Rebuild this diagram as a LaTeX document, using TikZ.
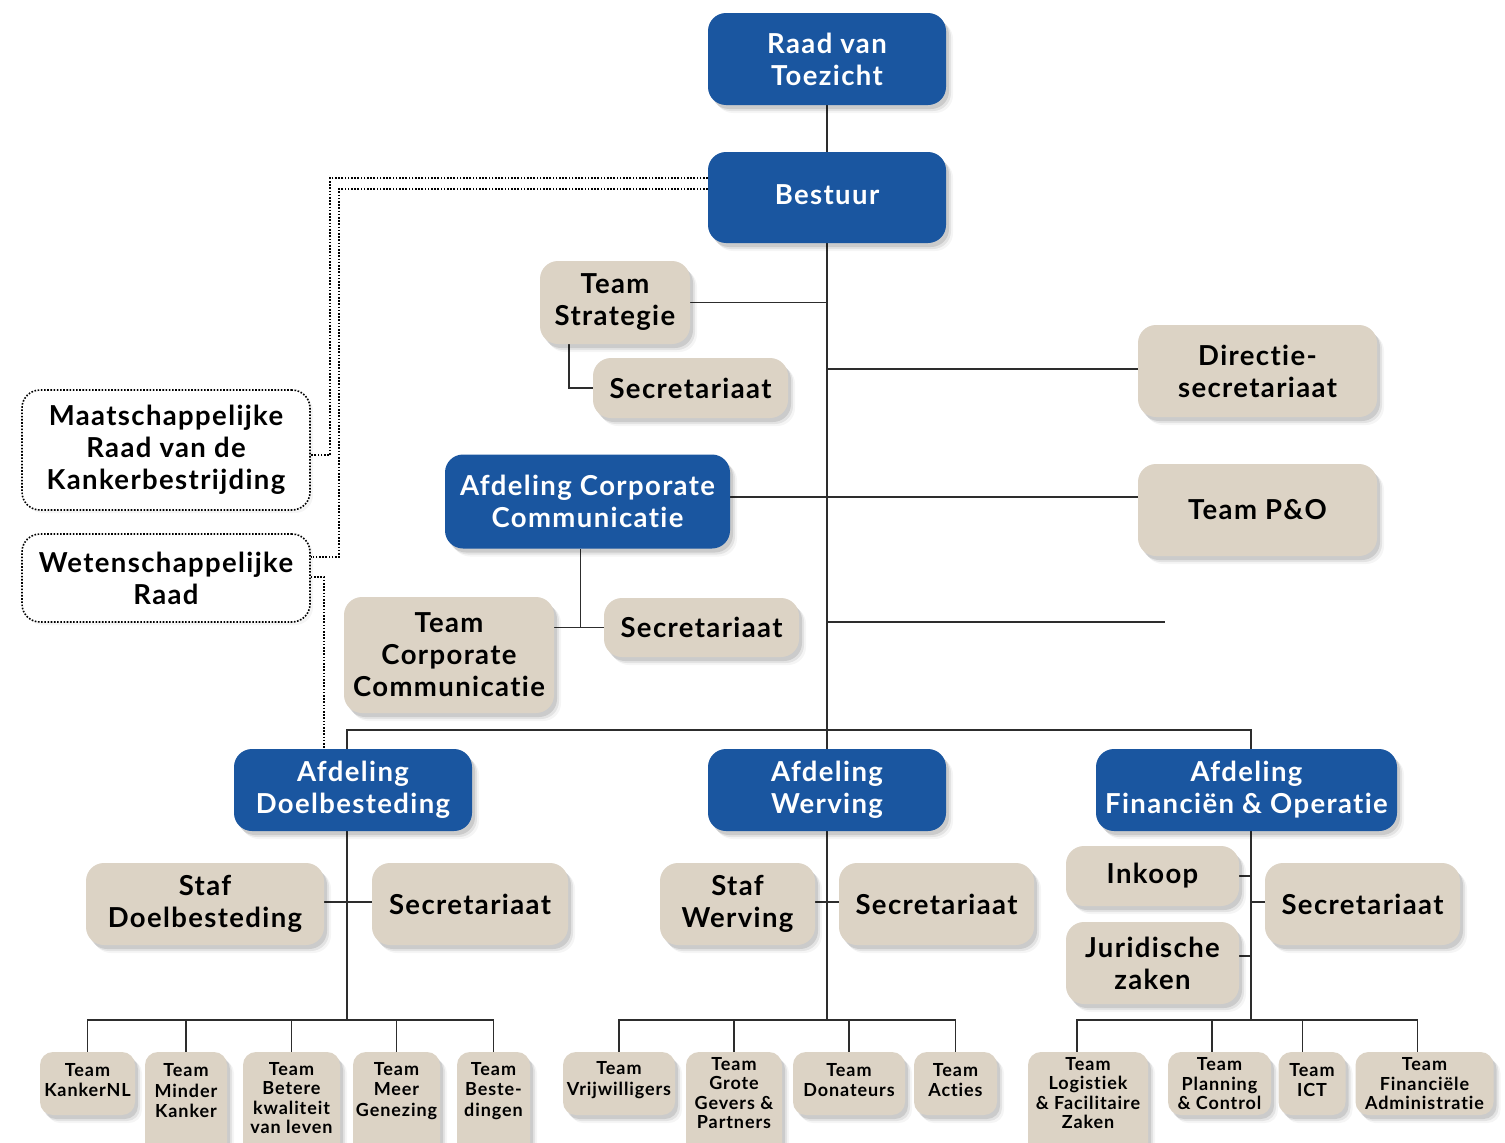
\documentclass[tikz,border=0pt]{standalone}
\usepackage{fontspec}
\setmainfont{Lato}[LetterSpace=5, Ligatures={NoCommon,NoContextual}]
\usetikzlibrary{shadows,backgrounds}
\definecolor{rvblue}{RGB}{26,86,160}
\definecolor{rvtan}{RGB}{220,211,197}
\definecolor{lineclr}{RGB}{45,45,45}
\newcommand\fbig{\fontsize{27.5pt}{32pt}\selectfont\bfseries}
\newcommand\fsmall{\fontsize{18pt}{20.5pt}\selectfont\bfseries}
\tikzset{
  shad/.style={
    general shadow={shadow xshift=3pt, shadow yshift=-4pt, fill=black, opacity=.10},
    general shadow={shadow xshift=5pt, shadow yshift=-6pt, fill=black, opacity=.07},
    general shadow={shadow xshift=7pt, shadow yshift=-8pt, fill=black, opacity=.04}},
  lightshad/.style={
    general shadow={shadow xshift=3pt, shadow yshift=-3pt, fill=black, opacity=.04}},
  bluebox/.style={rectangle, rounded corners=18pt, fill=rvblue, text=white,
    font=\fbig, align=center, inner sep=0pt, shad},
  tanbox/.style={rectangle, rounded corners=18pt, fill=rvtan, text=black,
    font=\fbig, align=center, inner sep=0pt, shad},
  dotbox/.style={rectangle, rounded corners=18pt, fill=white, draw=black,
    line width=1.6pt, dash pattern=on 1.6pt off 1.6pt, text=black,
    font=\fbig, align=center, inner sep=0pt, lightshad},
  smallbox/.style={rectangle, rounded corners=13pt, fill=rvtan, inner sep=0pt, shad},
  stext/.style={font=\fsmall, align=center, inner sep=0pt, text=black},
  stextb/.style={font=\fontsize{18pt}{19.5pt}\selectfont\bfseries, align=center, inner sep=0pt, text=black},
  conn/.style={draw=lineclr, line width=1.5pt},
  dotconn/.style={draw=black, line width=1.6pt, dash pattern=on 1.6pt off 1.6pt}
}
\begin{document}
\begin{tikzpicture}[x=1pt, y=-1pt]
\useasboundingbox (0,0) rectangle (1505,1143);

% top
\node[bluebox, minimum width=238pt, minimum height=92pt] (rvt) at (827,59) {Raad van\\Toezicht};
\node[bluebox, minimum width=238pt, minimum height=91pt] (bestuur) at (827,197.5) {Bestuur\rule[-5pt]{0pt}{0pt}};
\node[tanbox, minimum width=150pt, minimum height=83pt] (strat) at (615,302.5) {Team\\Strategie};
\node[tanbox, minimum width=195pt, minimum height=60pt] (secstrat) at (690.5,388) {Secretariaat};
\node[tanbox, minimum width=239pt, minimum height=92pt] (dirsec) at (1257.5,371) {Directie-\\secretariaat};
\node[bluebox, minimum width=285pt, minimum height=94pt] (afdcc) at (587.5,501.5) {Afdeling Corporate\\Communicatie};
\node[tanbox, minimum width=239pt, minimum height=92pt] (teampo) at (1257.5,510) {Team P\&O};
\node[tanbox, minimum width=210pt, minimum height=116pt] (teamcc) at (449,655) {Team\\Corporate\\Communicatie};
\node[tanbox, minimum width=195pt, minimum height=59pt] (seccc) at (701.5,627.5) {Secretariaat};
\node[dotbox, minimum width=288pt, minimum height=120pt] (maat) at (166,450) {Maatschappelijke\\Raad van de\\Kankerbestrijding};
\node[dotbox, minimum width=288pt, minimum height=88pt] (wet) at (166,578) {Wetenschappelijke\\Raad};

% afdelingen
\node[bluebox, minimum width=238pt, minimum height=82pt] (afddb) at (353,790) {Afdeling\\Doelbesteding};
\node[bluebox, minimum width=238pt, minimum height=82pt] (afdw) at (827,790) {Afdeling\\Werving};
\node[bluebox, minimum width=301pt, minimum height=82pt] (afdfo) at (1246.5,790) {Afdeling\\Financi\"en \& Operatie};

\node[tanbox, minimum width=238pt, minimum height=82pt] (stafdb) at (205,904) {Staf\\Doelbesteding};
\node[tanbox, minimum width=196pt, minimum height=82pt] (secdb) at (470,904) {Secretariaat};
\node[tanbox, minimum width=155pt, minimum height=82pt] (stafw) at (737.5,904) {Staf\\Werving};
\node[tanbox, minimum width=195pt, minimum height=82pt] (secw) at (936.5,904) {Secretariaat};
\node[tanbox, minimum width=173pt, minimum height=60pt] (inkoop) at (1152.5,876) {Inkoop};
\node[tanbox, minimum width=173pt, minimum height=82pt] (jur) at (1152.5,963) {Juridische\\zaken};
\node[tanbox, minimum width=195pt, minimum height=82pt] (secfo) at (1362.5,904) {Secretariaat};

% bottom row: Doelbesteding
\node[smallbox, minimum width=95pt, minimum height=63pt] (kn) at (87.5,1083.5) {};
\node[stext] (kn-t) at (87.5,1080) {Team\\KankerNL};
\node[smallbox, minimum width=82pt, minimum height=118pt] (mk) at (186,1111) {};
\node[stext] (mk-t) at (186,1091) {Team\\Minder\\Kanker};
\node[smallbox, minimum width=97pt, minimum height=118pt] (bk) at (291.5,1111) {};
\node[stextb] (bk-t) at (291.5,1098) {Team\\Betere\\kwaliteit\\van leven};
\node[smallbox, minimum width=87pt, minimum height=118pt] (mg) at (396.5,1111) {};
\node[stext] (mg-t) at (396.5,1091) {Team\\Meer\\Genezing};
\node[smallbox, minimum width=73pt, minimum height=118pt] (bs) at (493.5,1111) {};
\node[stext] (bs-t) at (493.5,1091) {Team\\Beste-\\dingen};

% bottom row: Werving
\node[smallbox, minimum width=112pt, minimum height=63pt] (vr) at (619,1083.5) {};
\node[stext] (vr-t) at (619,1080) {Team\\Vrijwilligers};
\node[smallbox, minimum width=96pt, minimum height=118pt] (gg) at (734,1111) {};
\node[stextb] (gg-t) at (734,1093) {Team\\Grote\\Gevers \&\\Partners};
\node[smallbox, minimum width=112pt, minimum height=63pt] (do) at (849,1083.5) {};
\node[stext] (do-t) at (849,1080) {Team\\Donateurs};
\node[smallbox, minimum width=83pt, minimum height=63pt] (ac) at (955.5,1083.5) {};
\node[stext] (ac-t) at (955.5,1080) {Team\\Acties};

% bottom row: Financien & Operatie
\node[smallbox, minimum width=120pt, minimum height=118pt] (lf) at (1088,1111) {};
\node[stextb] (lf-t) at (1088,1093) {Team\\Logistiek\\\& Facilitaire\\Zaken};
\node[smallbox, minimum width=103pt, minimum height=63pt] (pc) at (1219.5,1083.5) {};
\node[stextb] (pc-t) at (1219.5,1084) {Team\\Planning\\\& Control};
\node[smallbox, minimum width=67pt, minimum height=63pt] (ict) at (1312,1083.5) {};
\node[stext] (ict-t) at (1312,1080) {Team\\ICT};
\node[smallbox, minimum width=138pt, minimum height=63pt] (fa) at (1424.5,1083.5) {};
\node[stextb] (fa-t) at (1424.5,1084) {Team\\Financi\"ele\\Administratie};

\coordinate (busy) at (0,730);
\coordinate (bby) at (0,1020);
\coordinate (freeend) at (1165,622);
\coordinate (d1) at (330,455);
\coordinate (d2) at (339,557);
\coordinate (d0a) at (0,178);
\coordinate (d0b) at (0,189);
\coordinate (ccline) at (0,497);
\coordinate (fspine) at ([xshift=4.5pt]afdfo.south);
\coordinate (fspinetop) at ([xshift=4.5pt]afdfo.north);

\begin{pgfonlayer}{background}
\fill[white] (0,0) rectangle (1505,1143);
% main spine
\draw[conn] (rvt.south) -- (bestuur.north);
\draw[conn] (bestuur.south) -- (afdw.north);
\draw[conn] (strat.east) -- (strat.east -| bestuur.south);
\draw[conn] ([xshift=29pt]strat.south west) |- (secstrat.west);
\draw[conn] ([yshift=2pt]dirsec.west -| bestuur.south) -- ([yshift=2pt]dirsec.west);
\draw[conn] (afdcc.east |- ccline) -- (teampo.west |- ccline);
\draw[conn] (freeend -| bestuur.south) -- (freeend);
\draw[conn] ([xshift=-7pt]afdcc.south) -- ([xshift=-7pt]afdcc.south |- seccc.west);
\draw[conn] (teamcc.east |- seccc.west) -- (seccc.west);
% bus to afdelingen
\draw[conn] ([xshift=-6pt]afddb.north) |- (fspinetop |- busy) -- (fspinetop);
% Doelbesteding
\draw[conn] ([xshift=-6pt]afddb.south) -- ([xshift=-6pt]afddb.south |- bby);
\draw[conn] ([yshift=2pt]stafdb.east) -- ([yshift=2pt]secdb.west);
\draw[conn] (kn.north) |- (bs.north |- bby) -- (bs.north);
\draw[conn] (mk.north) -- (mk.north |- bby);
\draw[conn] (bk.north) -- (bk.north |- bby);
\draw[conn] (mg.north) -- (mg.north |- bby);
% Werving
\draw[conn] (afdw.south) -- (afdw.south |- bby);
\draw[conn] ([yshift=2pt]stafw.east) -- ([yshift=2pt]secw.west);
\draw[conn] (vr.north) |- (ac.north |- bby) -- (ac.north);
\draw[conn] (gg.north) -- (gg.north |- bby);
\draw[conn] (do.north) -- (do.north |- bby);
% Financien & Operatie
\draw[conn] (fspine) -- (fspine |- bby);
\draw[conn] (inkoop.east) -- (inkoop.east -| fspine);
\draw[conn] ([yshift=7pt]jur.east) -- ([yshift=7pt]jur.east -| fspine);
\draw[conn] ([yshift=2pt]secfo.west) -- ([yshift=2pt]secfo.west -| fspine);
\draw[conn] ([xshift=-11pt]lf.north) |- ([xshift=-7pt]fa.north |- bby) -- ([xshift=-7pt]fa.north);
\draw[conn] ([xshift=-7.5pt]pc.north) -- ([xshift=-7.5pt]pc.north |- bby);
\draw[conn] ([xshift=-9.5pt]ict.north) -- ([xshift=-9.5pt]ict.north |- bby);
% dotted advisory lines
\draw[dotconn] (bestuur.west |- d0a) -| (d1) -- (d1 -| maat.east);
\draw[dotconn] (bestuur.west |- d0b) -| (d2) -- (d2 -| wet.east);
\draw[dotconn] ([yshift=1pt]wet.east) -| ([xshift=-29pt]afddb.north);
\end{pgfonlayer}
\end{tikzpicture}
\end{document}
